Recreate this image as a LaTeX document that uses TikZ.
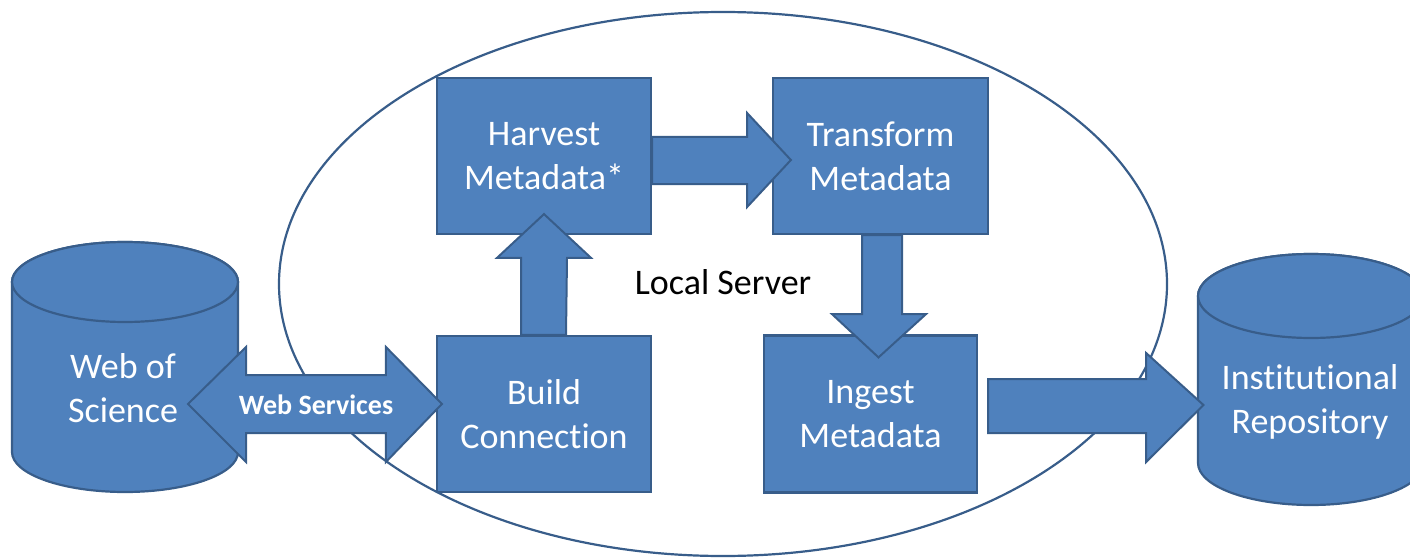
\documentclass[tikz,border=0pt]{standalone}
\usepackage{fontspec}
\setmainfont[Ligatures={NoCommon}]{Carlito}
\usetikzlibrary{calc}
\definecolor{blfill}{HTML}{4F81BD}
\definecolor{bldraw}{HTML}{385D8A}
\tikzset{
  boxnode/.style={draw=bldraw, fill=blfill, line width=2.2pt, minimum width=#1, minimum height=156pt, inner sep=0pt,
    text=white, align=center, font=\fontsize{36}{44}\selectfont},
  boxnode/.default=214pt,
  blockarrow/.style={draw=bldraw, fill=blfill, line width=2pt, line join=miter},
  cyl/.style={draw=bldraw, fill=blfill, line width=2.2pt},
  cyltext/.style={text=white, align=center, font=\fontsize{36}{44}\selectfont, inner sep=0pt},
}
\begin{document}
\begin{tikzpicture}[x=1pt, y=-1pt]
\useasboundingbox (0,0) rectangle (1410,559);
\begin{scope}
\clip (0,0) rectangle (1410,559);
% local server ellipse
\draw[bldraw, line width=2.2pt] (723,284) ellipse [x radius=444, y radius=272];
\node[font=\fontsize{36}{44}\selectfont, text=black, inner sep=0pt] (local) at (723,282) {Local Server};

% Web of Science cylinder
\draw[cyl] (12,282) -- (12,452) arc[start angle=180, end angle=0, x radius=113, y radius=40] -- (238,282)
  arc[start angle=0, end angle=-180, x radius=113, y radius=40] -- cycle;
\draw[cyl] (125,282) ellipse [x radius=113, y radius=40];
\node[cyltext] (wos) at (123,388) {Web of\\Science};

% Institutional Repository cylinder
\draw[cyl] (1198,296) -- (1198,463) arc[start angle=180, end angle=0, x radius=113, y radius=42] -- (1424,296)
  arc[start angle=0, end angle=-180, x radius=113, y radius=42] -- cycle;
\draw[cyl] (1311,296) ellipse [x radius=113, y radius=42];
\node[cyltext] (ir) at (1310,402) {Institutional\\Repository};

% process boxes
\node[boxnode=214pt] (harvest) at (544,156) {Harvest\\Metadata*};
\node[boxnode=215pt] (transform) at (880.5,156) {Transform\\Metadata};
\node[boxnode=214pt] (build) at (544,414) {Build\\Connection};
\node[boxnode=213pt, minimum height=157pt] (ingest) at (870.5,414) {Ingest\\Metadata};

% Web Services double arrow: WoS <-> Build
\coordinate (wsL) at (188,404);
\coordinate (wsR) at ($(build.west)+(6,-10)$);
\draw[blockarrow] (wsL) -- ++(58,-57) -- ++(0,28) -- ($(wsR)+(-56,-29)$) -- ++(0,-28) -- (wsR)
  -- ++(-56,58) -- ++(0,-29) -- ($(wsL)+(58,29)$) -- ++(0,29) -- cycle;
\node[text=white, font=\bfseries\fontsize{28}{30}\selectfont, inner sep=0pt] (ws) at (316,405) {Web Services};

% Build -> Harvest (up arrow)
\coordinate (upB) at (build.north);
\draw[blockarrow] ($(upB)+(-23,0)$) -- ++(0,-77) -- ++(-24,0) -- ($(harvest.south)+(0,-21)$)
  -- ($(upB)+(47,-77)$) -- ++(-24,0) -- ($(upB)+(22,0)$) -- cycle;

% Harvest -> Transform (right arrow)
\coordinate (rtA) at (harvest.east);
\draw[blockarrow] ($(rtA)+(0,-19)$) -- ++(95,0) -- ++(0,-24) -- ($(transform.west)+(19,4)$)
  -- ($(rtA)+(95,51)$) -- ++(0,-23) -- ($(rtA)+(0,28)$) -- cycle;

% Transform -> Ingest (down arrow)
\coordinate (dnA) at ($(transform.south)+(1.5,0)$);
\draw[blockarrow] ($(dnA)+(-20,0)$) -- ++(0,79) -- ++(-30,0) -- ($(ingest.north)+(8,23)$)
  -- ($(dnA)+(44,79)$) -- ++(-24,0) -- ($(dnA)+(20,0)$) -- cycle;

% Ingest -> Repository (right arrow)
\coordinate (irA) at ($(ingest.east)+(10,0)$);
\draw[blockarrow] ($(irA)+(0,-35)$) -- ++(158,0) -- ++(0,-26) -- ($(ir.west)+(-18,3)$)
  -- ($(irA)+(158,48)$) -- ++(0,-29) -- ($(irA)+(0,19)$) -- cycle;
\end{scope}
\end{tikzpicture}
\end{document}
